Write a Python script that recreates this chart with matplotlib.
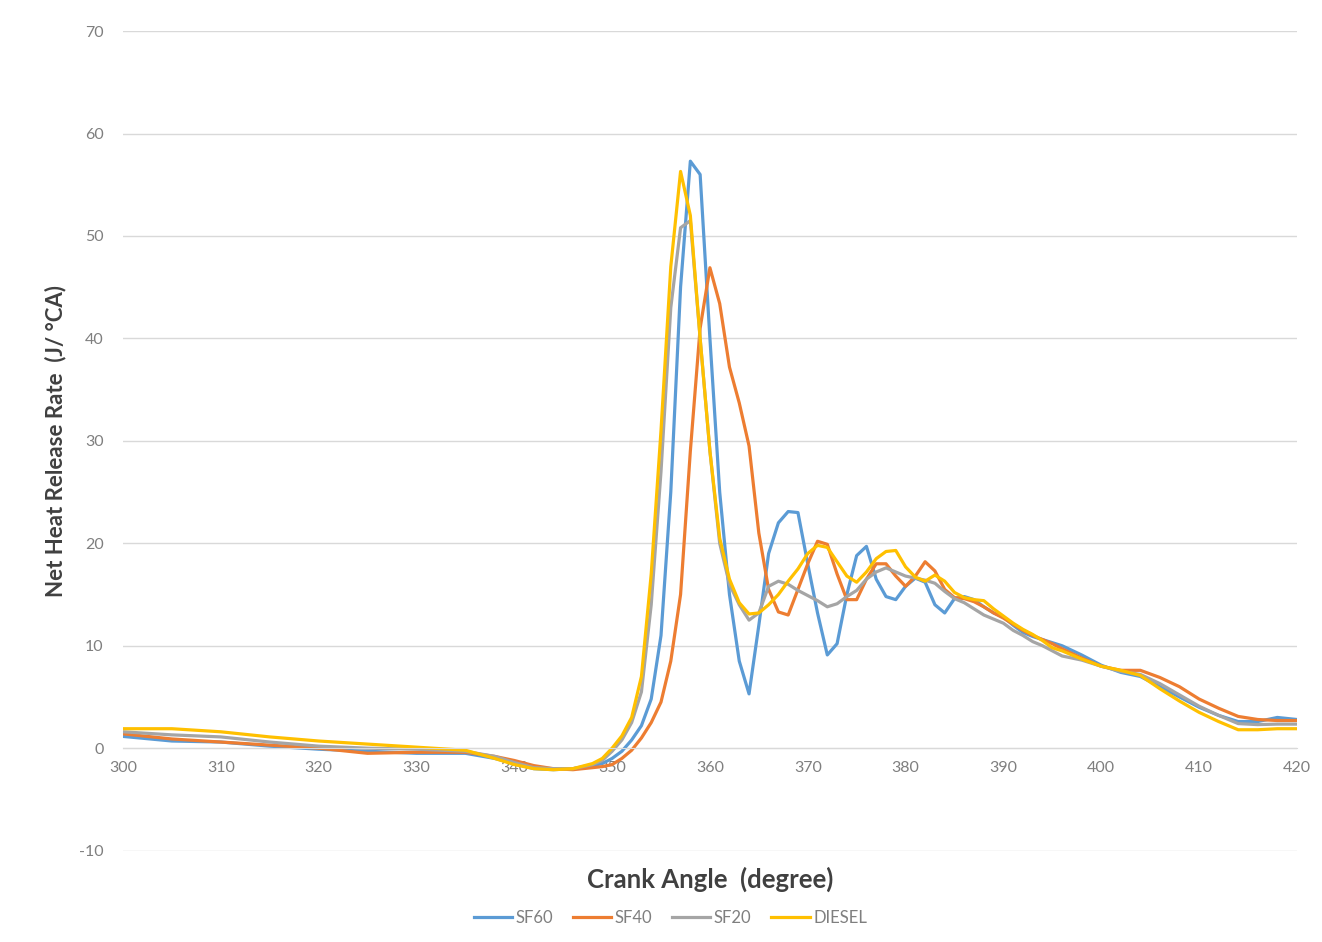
import numpy as np
import matplotlib
matplotlib.use("Agg")
from matplotlib import pyplot as plt

# crank angle (degree) -- coarse where the curves are smooth, 1 deg around combustion
crank_angle = [300, 305, 310, 315, 320, 325, 330, 335, 338, 340, 342, 344, 346, 348] \
    + list(range(349, 396)) + list(range(396, 421, 2))

sf60 = [1.15, 0.7, 0.6, 0.2, -0.1, -0.3, -0.5, -0.5, -1.0, -1.5, -2.0, -2.1, -2.0, -1.7,
        -1.5, -1.0, -0.3, 0.8, 2.2, 4.8, 11, 25, 45, 57.3, 56, 40, 25, 15, 8.5, 5.3,
        12, 19, 22, 23.1, 23.0, 18, 13.2, 9.1, 10.2, 15, 18.8, 19.7, 16.5, 14.8, 14.5,
        15.8, 16.6, 16.2, 14.0, 13.2, 14.6, 14.8, 14.5, 13.8, 13.2, 12.8, 12.0, 11.3,
        10.9, 10.6, 10.3,
        10.0, 9.1, 8.1, 7.4, 7.0, 6.0, 5.0, 4.0, 3.2, 2.6, 2.6, 3.0, 2.8]

sf40 = [1.4, 0.9, 0.6, 0.3, 0.0, -0.5, -0.4, -0.4, -0.8, -1.2, -1.7, -2.0, -2.1, -1.9,
        -1.8, -1.6, -1.0, -0.2, 1.0, 2.5, 4.5, 8.5, 15, 29, 41, 46.9, 43.4, 37.2, 33.7, 29.5,
        21, 15.5, 13.3, 13.0, 15.5, 18, 20.2, 19.9, 17, 14.5, 14.5, 16.5, 18.0, 18.0, 16.8,
        15.8, 16.8, 18.2, 17.3, 15.5, 14.7, 14.6, 14.3, 13.8, 13.2, 12.7, 12.1, 11.5,
        11.0, 10.6, 10.2,
        9.7, 8.8, 8.0, 7.6, 7.6, 6.9, 6.0, 4.8, 3.9, 3.1, 2.8, 2.7, 2.7]

sf20 = [1.6, 1.3, 1.1, 0.6, 0.2, 0.0, -0.1, -0.3, -0.8, -1.4, -1.9, -2.0, -2.0, -1.6,
        -1.2, -0.3, 0.8, 2.5, 5.5, 14, 27, 43, 50.8, 51.5, 40, 29, 20, 16, 14, 12.5,
        13.2, 15.8, 16.3, 16, 15.4, 14.9, 14.4, 13.8, 14.1, 14.8, 15.4, 16.5, 17.2, 17.6, 17.2,
        16.8, 16.6, 16.4, 16.1, 15.3, 14.6, 14.2, 13.6, 13.0, 12.6, 12.2, 11.5, 11.0,
        10.4, 10.0, 9.5,
        9.0, 8.6, 8.0, 7.5, 7.2, 6.3, 5.2, 4.1, 3.2, 2.4, 2.3, 2.35, 2.35]

diesel = [1.9, 1.9, 1.6, 1.1, 0.7, 0.4, 0.1, -0.2, -1.0, -1.6, -2.0, -2.1, -2.0, -1.5,
          -1.0, 0.0, 1.2, 3.0, 7, 17, 31, 47, 56.3, 52, 40, 29, 20.5, 16.5, 14.2, 13.1,
          13.2, 14.0, 15, 16.3, 17.5, 19, 19.8, 19.6, 18.2, 16.8, 16.2, 17.2, 18.5, 19.2, 19.3,
          17.7, 16.7, 16.3, 16.9, 16.3, 15.2, 14.7, 14.5, 14.4, 13.6, 12.9, 12.2, 11.6,
          11.1, 10.5, 9.8,
          9.5, 8.7, 8.0, 7.6, 7.1, 5.8, 4.6, 3.5, 2.6, 1.8, 1.8, 1.9, 1.9]

labels = ["SF60", "SF40", "SF20", "DIESEL"]
colors = ["#5B9BD5", "#ED7D31", "#A5A5A5", "#FFC000"]

plt.rcParams['font.family'] = ['Lato', 'DejaVu Sans']
plt.rcParams['axes.unicode_minus'] = False

fig = plt.figure(figsize=(13.22, 9.42), dpi=100)
ax = fig.add_axes([0.093, 0.097, 0.888, 0.870])

for series, name, c in zip([sf60, sf40, sf20, diesel], labels, colors):
    ax.plot(crank_angle, series, color=c, lw=2.3, label=name, solid_joinstyle='round')

ax.set_xlim(300, 420)
ax.set_ylim(-10, 70)
ax.set_xticks(np.arange(300, 421, 10))
ax.set_yticks(np.arange(-10, 71, 10))
ax.grid(axis='y', color='#D9D9D9', lw=1.0)
ax.set_axisbelow(True)

for s in ['top', 'right', 'left']:
    ax.spines[s].set_visible(False)
ax.spines['bottom'].set_position(('data', 0))
ax.spines['bottom'].set_color('#D9D9D9')
ax.tick_params(axis='both', length=0, labelsize=11.5, labelcolor='#7F7F7F')
ax.tick_params(axis='x', pad=9)
ax.tick_params(axis='y', pad=14)

fig.text(0.042, 0.532, "Net Heat Release Rate  (J/ \u00b0CA)", rotation=90,
         ha='center', va='center', fontsize=16, fontweight='bold', color='#404040')
fig.text(0.537, 0.066, "Crank Angle  (degree)", ha='center', va='center',
         fontsize=18.5, fontweight='bold', color='#404040')

leg = fig.legend(loc='center', bbox_to_anchor=(0.507, 0.026), ncol=4, frameon=False,
                 fontsize=12, handlelength=2.3, handletextpad=0.2, columnspacing=1.2)
for t in leg.get_texts():
    t.set_color('#7F7F7F')

fig.savefig("out.png", dpi=100)
